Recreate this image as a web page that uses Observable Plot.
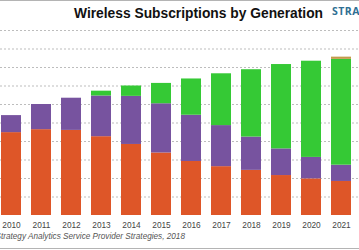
<!DOCTYPE html>
<html>
<head>
<meta charset="utf-8">
<script src="https://cdn.jsdelivr.net/npm/d3@7"></script>
<script src="https://cdn.jsdelivr.net/npm/@observablehq/plot@0.6"></script>
<style>
  html, body { margin: 0; padding: 0; background: #fff; }
  #chart {
    position: relative; width: 359px; height: 250px; overflow: hidden;
    font-family: "Liberation Sans", Arial, sans-serif; background: #fff;
  }
  #chart svg { position: absolute; left: 0; top: 0; }
  .title {
    position: absolute; left: 74px; top: 6.5px; white-space: nowrap;
    font-size: 13.8px; line-height: 13.8px; font-weight: bold; color: #111;
  }
  .brand {
    position: absolute; left: 332px; top: 6px; white-space: nowrap;
    font-size: 10.5px; line-height: 10.5px; font-weight: bold; letter-spacing: 0.5px;
    color: #2f6f93; font-family: "Open Sans", "Liberation Sans", sans-serif;
  }
  .caption {
    position: absolute; left: -4.5px; top: 233px; white-space: nowrap;
    font-size: 8.2px; line-height: 8.2px; font-style: italic; color: #555;
  }
  .rule-top, .rule-bottom { position: absolute; left: 0; width: 359px; height: 1px; background: #b4b4b4; }
  .rule-top { top: 0; }
  .rule-bottom { top: 248px; }
</style>
</head>
<body>
<div id="chart">
  <div class="rule-top"></div>
  <div class="title">Wireless Subscriptions by Generation</div>
  <div class="brand">STRATEGY ANALYTICS</div>
  <div class="caption">Strategy Analytics Service Provider Strategies, 2018</div>
  <div class="rule-bottom"></div>
</div>
<script>
// Subscriptions (millions) by technology generation, 2010–2021
const years = ["2010", "2011", "2012", "2013", "2014", "2015", "2016", "2017", "2018", "2019", "2020", "2021"];
const series = ["2G/3G", "3.5G", "4G LTE", "5G"];
const gen3 = [224, 232, 230, 213, 192, 169, 146, 132, 122, 108, 99, 92];
const gen35 = [46, 68, 87, 110, 130, 133, 125, 111, 90, 72, 58, 44];
const gen4 = [0, 0, 0, 13, 28, 55, 98, 140, 182, 228, 260, 286];
const gen5 = [0, 0, 0, 0, 0, 0, 0, 0, 0, 0, 0, 6];
const colors = ["#de5628", "#77539f", "#35c935", "#c49a4c"];
const gridValues = d3.range(50, 501, 50);

const columns = [gen3, gen35, gen4, gen5];
const rows = [];
series.forEach((s, i) => {
  years.forEach((year, j) => {
    if (columns[i][j] > 0) rows.push({year, series: s, value: columns[i][j]});
  });
});

const plot = Plot.plot({
  width: 359,
  height: 250,
  marginTop: 30,
  marginBottom: 35,
  marginLeft: 0,
  marginRight: 0,
  style: {background: "transparent", fontSize: "8.3px", color: "#444", fontFamily: "'Liberation Sans', Arial, sans-serif"},
  x: {domain: years, range: [-9.4, 360.2], paddingInner: 0.35, paddingOuter: 0.175, tickSize: 0, tickPadding: 7, label: null},
  y: {domain: [0, 500], axis: null},
  color: {domain: series, range: colors},
  marks: [
    Plot.ruleY(gridValues, {stroke: "#bdbdbd", strokeDasharray: "2,2"}),
    Plot.barY(rows, Plot.stackY({x: "year", y: "value", fill: "series", order: null}))
  ]
});

document.getElementById("chart").prepend(plot);
</script>
</body>
</html>
